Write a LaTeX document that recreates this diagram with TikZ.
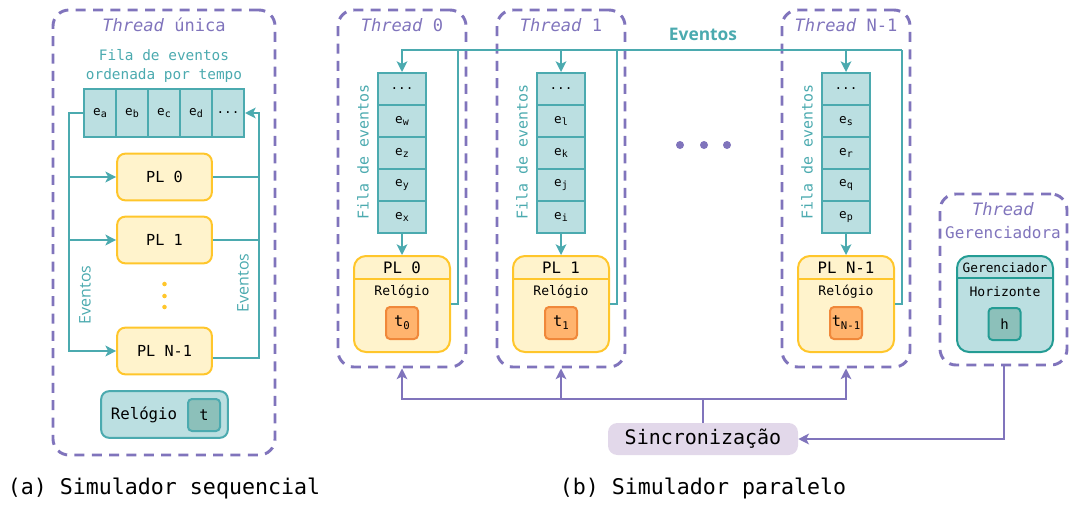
\documentclass[tikz,border=0pt]{standalone}
\usepackage{fontspec}
\setmainfont{DejaVu Sans Mono}[ItalicFont={DejaVu Sans Mono Oblique}]
\newfontfamily\evfont{Open Sans}
\usetikzlibrary{arrows.meta}

\newcommand{\tamanho}[1]{\fontsize{#1}{#1}\selectfont}
\newcommand{\indice}[2]{\raisebox{-0.35ex}{\tamanho{#1}#2}}

\definecolor{roxo}{RGB}{128,116,188}
\definecolor{roxoclaro}{RGB}{226,216,234}
\definecolor{verde}{RGB}{75,170,175}
\definecolor{verdeclaro}{RGB}{187,223,225}
\definecolor{verdemedio}{RGB}{140,192,186}
\definecolor{verdeescuro}{RGB}{36,156,148}
\definecolor{ouro}{RGB}{255,198,43}
\definecolor{amarelo}{RGB}{255,243,204}
\definecolor{laranja}{RGB}{240,136,58}
\definecolor{laranjaclaro}{RGB}{255,180,110}

\tikzset{
  threadbox/.style={draw=roxo, line width=2.2pt, dash pattern=on 7.5pt off 5.5pt, rounded corners=12pt},
  thtitle/.style={text=roxo, font=\tamanho{12.8}},
  fila/.style={text=verde, font=\tamanho{10.9}},
  evlabel/.style={text=verde, font=\evfont\tamanho{12}},
  celula/.style={draw=verde, fill=verdeclaro, line width=1.5pt, minimum width=24pt, minimum height=36pt, inner sep=0pt, font=\tamanho{9.5}},
  celulab/.style={celula, minimum width=36pt, minimum height=24pt},
  plbox/.style={draw=ouro, fill=amarelo, line width=1.5pt, rounded corners=6pt, minimum width=71pt, minimum height=35pt, font=\tamanho{11.4}},
  plgrande/.style={plbox, rounded corners=9pt, minimum width=72pt, minimum height=72pt},
  plborda/.style={draw=ouro, line width=1.5pt},
  relbox/.style={draw=laranja, fill=laranjaclaro, line width=1.5pt, rounded corners=3pt, minimum size=24pt, inner sep=1pt, font=\tamanho{11.5}},
  tbox/.style={draw=verde, fill=verdemedio, line width=1.5pt, rounded corners=3pt, minimum size=24pt, inner sep=1pt, font=\tamanho{11.5}},
  gerbox/.style={draw=verdeescuro, fill=verdeclaro, line width=1.5pt, rounded corners=9pt, minimum width=72pt, minimum height=72pt},
  gerborda/.style={draw=verdeescuro, line width=1.5pt},
  hbox/.style={tbox, draw=verdeescuro, font=\tamanho{10.5}},
  sincbox/.style={fill=roxoclaro, rounded corners=7pt, minimum width=142.5pt, minimum height=24pt, font=\tamanho{15}},
  evline/.style={draw=verde, line width=1.5pt},
  evarrow/.style={evline, -{Stealth[length=8pt,width=8pt,inset=2pt]}},
  syncline/.style={draw=roxo, line width=1.5pt},
  syncarrow/.style={syncline, -{Stealth[length=8pt,width=8pt,inset=2pt]}},
}

\begin{document}
\begin{tikzpicture}[x=0.75pt, y=-0.75pt]
\useasboundingbox (0,0) rectangle (1069,504);

    % (a) thread unica
    \node[threadbox, minimum width=166.5pt, minimum height=333.75pt] (thu) at (164,232.5) {};
    \node[thtitle] (tu) at (164,25) {\textit{Thread} única};
    \node[fila, align=center, font=\fontsize{10.8}{14.25}\selectfont] (filaa) at (164,65.5) {Fila de eventos\\ordenada por tempo};

    % fila
    \foreach \l [count=\i] in {a,b,c,d}
        \node[celula] (qa\i) at (68+32*\i,113) {e\indice{7.5}{\l}};
    \node[celula] (qa5) at (228,113) {...};

    % PLs
    \node[plbox] (pla0) at (164.5,177) {PL 0};
    \node[plbox] (pla1) at (164.5,240) {PL 1};
    \node[plbox] (plan) at (164.5,351) {PL N-1};
    \foreach \y in {284,296,307}
        \fill[ouro] (164.5,\y) circle (1.7pt);

    % eventos
    \coordinate (la) at (69,113);
    \coordinate (ra) at (259,113);
    \draw[evarrow] (qa1.west) -- (la) |- (plan.west);
    \draw[evarrow] (la |- pla0.west) -- (pla0.west);
    \draw[evarrow] (la |- pla1.west) -- (pla1.west);
    \draw[evline] (pla0.east) -- (ra |- pla0.east);
    \draw[evline] (pla1.east) -- (ra |- pla1.east);
    \draw[evarrow] ([yshift=-5pt]plan.east) -| (ra) -- (qa5.east);
    \node[evlabel, rotate=90] (eva) at (85,295) {Eventos};
    \node[evlabel, rotate=90] (evb) at (243,283) {Eventos};

    % relogio
    \node[draw=verde, fill=verdeclaro, line width=1.5pt, rounded corners=6pt, minimum width=95pt, minimum height=35pt] (rlga) at (164.5,414.5) {};
    \node[font=\tamanho{11.8}] (rlgatxt) at (144,415) {Relógio};
    \node[tbox] (ta) at (204,415) {t};

    % (b) threads
    \foreach \cx/\id/\pl/\ea/\eb/\ec/\ed in {402/0/0/w/z/y/x, 561/1/1/l/k/j/i, 846/n/N-1/s/r/q/p} {
        \node[threadbox, minimum width=96pt, minimum height=267.75pt] (th\id) at (\cx,188.5) {};
        \node[thtitle] (tt\id) at (\cx,25) {\textit{Thread} \pl};
        \node[celulab] (c\id1) at (\cx,89) {...};
        \node[celulab] (c\id2) at (\cx,121) {e\indice{7.5}{\ea}};
        \node[celulab] (c\id3) at (\cx,153) {e\indice{7.5}{\eb}};
        \node[celulab] (c\id4) at (\cx,185) {e\indice{7.5}{\ec}};
        \node[celulab] (c\id5) at (\cx,217) {e\indice{7.5}{\ed}};
        \node[fila, rotate=90, font=\tamanho{11.2}] (f\id) at (\cx-39,152) {Fila de eventos};
        \node[plgrande] (pl\id) at (\cx,304) {};
        \draw[plborda] ([yshift=-18pt]pl\id.north west) -- ([yshift=-18pt]pl\id.north east);
        \node[font=\tamanho{11.8}] (plt\id) at (\cx,268) {PL \pl};
        \node[font=\tamanho{9.8}] (rl\id) at (\cx,292) {Relógio};
        \node[relbox] (t\id) at (\cx,323) {t\indice{8}{\pl}};
        \draw[evarrow] (c\id5.south) -- (pl\id.north);
        \coordinate (r\id) at (\cx+56,50);
        \draw[evline] (pl\id.east) -| (r\id);
    }

    % eventos entre threads
    \draw[evarrow] (rn) -| (c01.north);
    \draw[evarrow] (c11.north |- rn) -- (c11.north);
    \draw[evarrow] (cn1.north |- rn) -- (cn1.north);
    \node[evlabel, font=\evfont\bfseries\tamanho{13}] (evtop) at (703,34) {Eventos};

    \foreach \x in {680,704,727}
        \fill[roxo] (\x,145) circle (3pt);

    % gerenciadora
    \node[threadbox, minimum width=95.25pt, minimum height=128.25pt] (thg) at (1003.5,279.5) {};
    \node[thtitle] (tg1) at (1003,209) {\textit{Thread}};
    \node[thtitle, font=\tamanho{12}] (tg2) at (1003,233) {Gerenciadora};
    \node[gerbox] (ger) at (1005,304) {};
    \draw[gerborda] ([yshift=-17.25pt]ger.north west) -- ([yshift=-17.25pt]ger.north east);
    \node[font=\tamanho{9.6}] (gert) at (1005,268) {Gerenciador};
    \node[font=\tamanho{9.8}] (hor) at (1005,292) {Horizonte};
    \node[hbox] (h) at (1004.5,324) {h};

    % sincronizacao
    \node[sincbox] (sinc) at (703,439) {Sincronização};
    \coordinate (bus) at (703,399);
    \draw[syncline] (sinc.north) -- (bus);
    \draw[syncarrow] (bus) -| (th0.south);
    \draw[syncarrow] (bus) -| (thn.south);
    \draw[syncarrow] (th1.south |- bus) -- (th1.south);
    \draw[syncarrow] (thg.south) |- (sinc.east);

    % legendas
    \node[font=\tamanho{16.2}] (capa) at (164,488) {(a) Simulador sequencial};
    \node[font=\tamanho{16.2}] (capb) at (703,488) {(b) Simulador paralelo};

\end{tikzpicture}
\end{document}
